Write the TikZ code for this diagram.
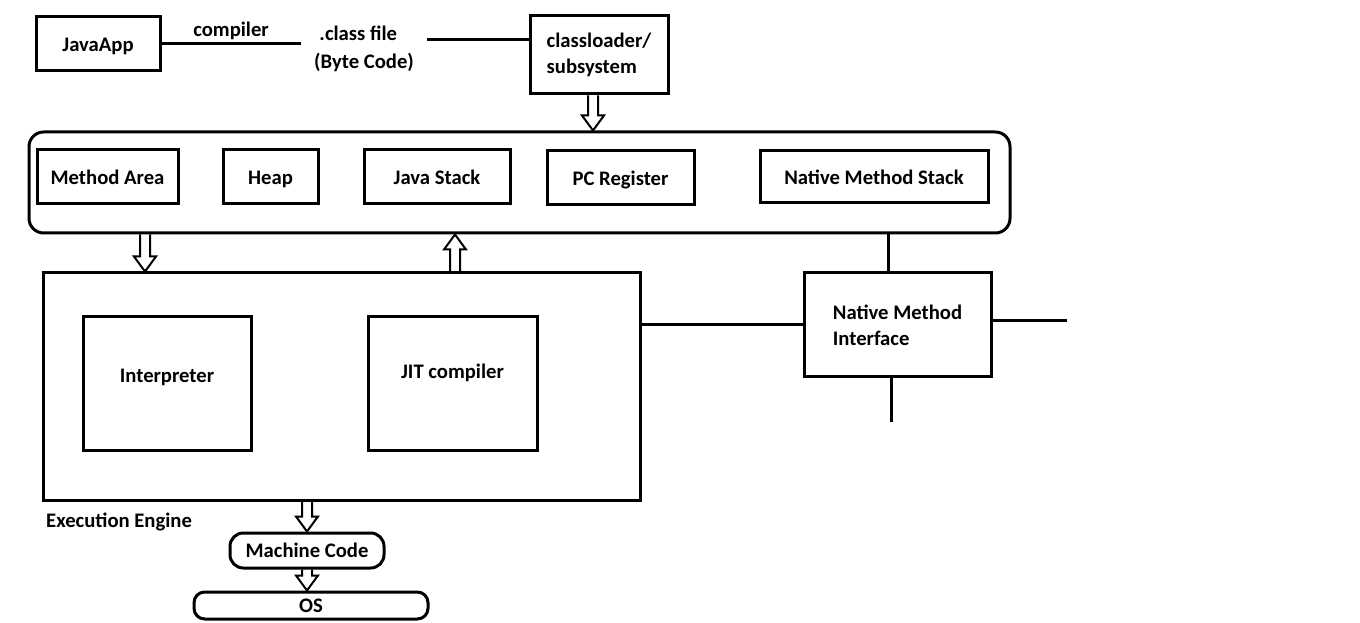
\documentclass[tikz,border=0pt]{standalone}
\usepackage{fontspec}
\setmainfont{Carlito}
\usetikzlibrary{calc,positioning}

% hollow block arrow between two named points
\newcommand{\hollowarrow}[2]{%
  \path ($(#2)!11.25pt!(#1)$) coordinate (ha-p);
  \draw[line width=1.5pt,line join=miter]
    ($(#1)!3.75pt!90:(#2)$) -- ($(ha-p)!3.75pt!90:(#2)$) -- ($(ha-p)!8.25pt!90:(#2)$)
    -- (#2) -- ($(ha-p)!8.25pt!-90:(#2)$) -- ($(ha-p)!3.75pt!-90:(#2)$)
    -- ($(#1)!3.75pt!-90:(#2)$);}

\begin{document}
\begin{tikzpicture}[x=0.75pt,y=-0.75pt,
  every node/.style={font=\bfseries\fontsize{15.5}{19.5}\selectfont},
  box/.style={draw,line width=2.25pt,minimum height=40.5pt,inner sep=2pt},
  row/.style={text height=11pt,text depth=0pt},
  link/.style={line width=2.25pt}]
  \useasboundingbox (0,0) rectangle (1360,623);

  % loading
  \node[box,row,minimum width=93pt] (java) at (98,44) {JavaApp};
  \node[align=left,inner xsep=10pt,font=\bfseries\fontsize{15.5}{21}\selectfont] (cls) at (364,49)
    {\hspace*{4pt}.class file\\(Byte Code)};
  \node[box,minimum width=103.5pt,minimum height=58.5pt,align=left] (cl) at (599,55)
    {classloader/\\subsystem};

  % runtime data areas
  \node[box,rounded corners=11pt,minimum width=735.75pt,minimum height=75.75pt] (rt) at (519.5,182.5) {};
  \node[box,row,minimum width=105.75pt] (ma) at (107.5,177) {Method Area};
  \node[box,row,minimum width=71.25pt] (heap) at (270.5,177) {Heap};
  \node[box,row,minimum width=109.5pt] (js) at (437,177) {Java Stack};
  \node[box,row,minimum width=110.25pt] (pc) at (620.5,178) {PC Register};
  \node[box,row,minimum width=171pt,minimum height=39pt] (nms) at (874,177) {Native Method Stack};

  % execution engine
  \node[box,minimum width=447.75pt,minimum height=170.25pt] (ee) at (341.5,386.5) {};
  \node[box,text height=10pt,text depth=11pt,minimum width=126pt,minimum height=99.75pt] (interp) at (167,383.5) {Interpreter};
  \node[box,text height=10pt,text depth=17pt,minimum width=126.75pt,minimum height=99.75pt] (jit) at (452.5,383.5) {JIT compiler};
  \node[anchor=west] (eelbl) at ($(ee.south west)+(0,20)$) {Execution Engine};

  \node[box,minimum width=140.25pt,minimum height=78pt,align=left] (nmi) at (897.5,325)
    {Native Method\\Interface};

  \node[box,row,rounded corners=10pt,minimum width=115.5pt,minimum height=26.25pt,inner sep=0pt] (mc) at (307,550.5) {Machine Code};
  \node[box,row,rounded corners=8pt,minimum width=175.5pt,minimum height=20.25pt,inner sep=0pt] (os) at (311,605.5) {OS};

  % end points
  \coordinate (cl-out) at ($(cl.south)+(-6,0)$);
  \coordinate (rt-in) at (cl-out |- rt.north);
  \coordinate (ma-out) at (145,0 |- rt.south);
  \coordinate (ee-in) at (ma-out |- ee.north);
  \coordinate (ee-up) at (455,0 |- ee.north);
  \coordinate (rt-back) at (ee-up |- rt.south);
  \coordinate (ee-out) at (mc.north |- ee.south);
  \coordinate (os-in) at (mc.south |- os.north);
  \coordinate (nmi-top) at ($(nmi.north west)!0.45!(nmi.north east)$);
  \coordinate (nmi-r) at (1067,321);
  \coordinate (nmi-b) at (891,422);

  % plain connectors
  \draw[link] (java.east) -- node[above,inner sep=2pt] (comp) {compiler} (cls.west |- java.east);
  \draw[link] (cls.east |- 0,40) -- (cl.west |- 0,40);
  \draw[link] (nmi-top) -- (nmi-top |- rt.south);
  \draw[link] (nmi.west) -- (nmi.west -| ee.east);
  \draw[link] (nmi.east |- nmi-r) -- (nmi-r);
  \draw[link] (nmi-b |- nmi.south) -- (nmi-b);

  % block arrows
  \hollowarrow{cl-out}{rt-in}
  \hollowarrow{ma-out}{ee-in}
  \hollowarrow{ee-up}{rt-back}
  \hollowarrow{ee-out}{mc.north}
  \hollowarrow{mc.south}{os-in}
\end{tikzpicture}
\end{document}
